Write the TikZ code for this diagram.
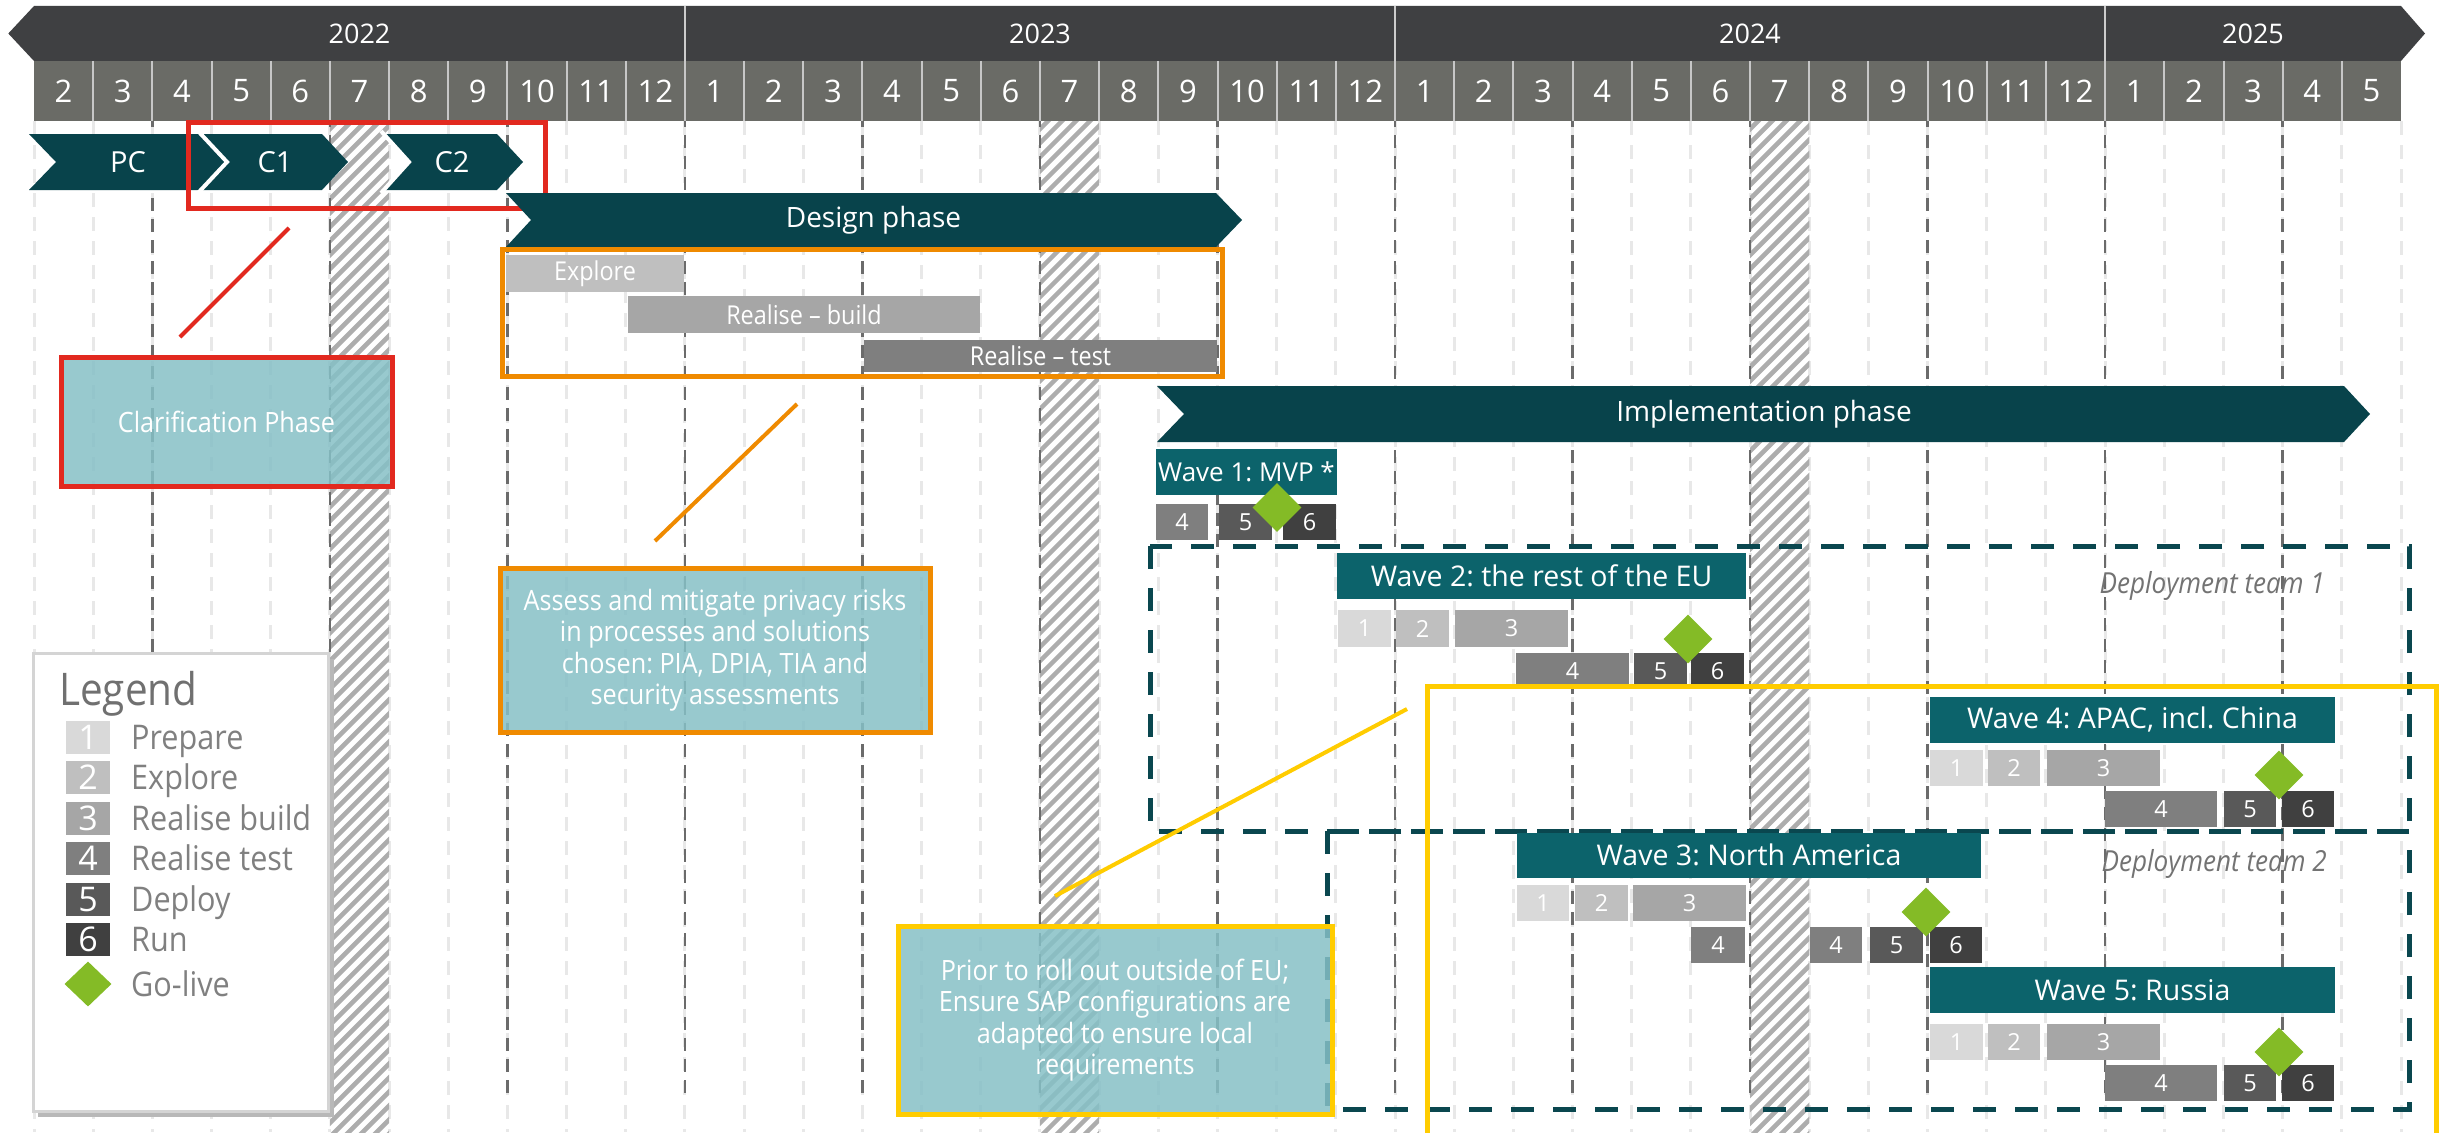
\documentclass[tikz,border=0pt]{standalone}
\usepackage{fontspec}
\setmainfont{Open Sans}
\newfontfamily\narrow[FakeStretch=0.9]{Open Sans}
\usetikzlibrary{shapes.geometric}
\frenchspacing

\definecolor{yearbar}{HTML}{3F4042}
\definecolor{monthcell}{HTML}{6A6B66}
\definecolor{phase}{HTML}{08434B}
\definecolor{wavefill}{HTML}{0C636B}
\definecolor{callout}{HTML}{86C0C6}
\definecolor{redline}{HTML}{E2291F}
\definecolor{orangeline}{HTML}{EF8A00}
\definecolor{yellowline}{HTML}{FFCC00}
\definecolor{livegreen}{HTML}{84BB26}
\definecolor{teamline}{HTML}{0A474F}
\definecolor{sA}{HTML}{D9D9D9}
\definecolor{sB}{HTML}{BFBFBF}
\definecolor{sC}{HTML}{A6A6A6}
\definecolor{sD}{HTML}{7F7F7F}
\definecolor{sE}{HTML}{595959}
\definecolor{sF}{HTML}{404040}

\newcommand\fs[2]{\fontsize{#1}{#2}\selectfont}
% box node from x1,x2,y1,y2 (pixel grid, y downwards)
\newcommand\stepbx[7]{\node[stepbox, fill=#6, minimum width={#3-#2}, minimum height={#5-#4}] (#1) at ({(#2+#3)/2},{(#4+#5)/2}) {#7};}
\newcommand\barbx[7]{\node[barbox, fill=#6, minimum width={#3-#2}, minimum height={#5-#4}] (#1) at ({(#2+#3)/2},{(#4+#5)/2}) {#7};}
\newcommand\mx[1]{(34+59.175*(#1))}

\begin{document}
\begin{tikzpicture}[x=1pt,y=-1pt,
  gridlight/.style={draw=black!9, line width=3pt, dash pattern=on 14pt off 10pt},
  gridquarter/.style={draw=black!58, line width=2.5pt, dash pattern=on 13pt off 8pt},
  hatchline/.style={draw=black!32, line width=4.5pt},
  monsep/.style={draw=black!22, line width=2pt},
  yearlbl/.style={text=white, font=\fs{27}{27}, inner sep=0},
  monlbl/.style={text=white, font=\fs{31}{31}, inner sep=0},
  chevlbl/.style={text=white, font=\fs{29}{29}, inner sep=0},
  phaselbl/.style={text=white, font=\fs{28}{28}, inner sep=0},
  barbox/.style={text=white, font=\narrow\fs{26}{26}, inner sep=0},
  waveheader/.style={fill=wavefill, text=white, font=\fs{28.5}{28.5}, inner sep=0},
  stepbox/.style={text=white, font=\fs{23.5}{23.5}, inner sep=0},
  calltext/.style={text=white, font=\narrow\fs{28}{31.5}, align=center, inner sep=0},
  callbox/.style={fill=callout, fill opacity=0.85, line width=5pt},
  connector/.style={line width=4pt},
  golive/.style={diamond, fill=livegreen, inner sep=0, minimum width=49pt, minimum height=49pt},
  teambox/.style={draw=teamline, line width=5pt, dash pattern=on 23pt off 19pt},
  teamlbl/.style={text=black!55, font=\narrow\itshape\fs{29}{29}, inner sep=0},
  legtitle/.style={text=black!56, font=\narrow\fs{45}{45}, inner sep=0},
  leglbl/.style={text=black!50, font=\narrow\fs{34}{34}, inner sep=0},
]
\clip (0,0) rectangle (2440,1132);
\fill[white] (0,0) rectangle (2440,1132);

% ---------- month grid ----------
\foreach \m in {0,...,40}
  \draw[gridlight] ({\mx{\m}},121) -- ({\mx{\m}},1132);
% hatched July columns
\foreach \m in {5,17,29} {
  \begin{scope}
    \clip ({\mx{\m}},121) rectangle ({\mx{\m+1}},1132);
    \foreach \k in {0,...,78}
      \draw[hatchline] ({\mx{\m}-1025+14*\k},1140) -- ++(1100,-1100);
  \end{scope}
}
% quarter lines
\foreach \m in {2,5,...,38}
  \draw[gridquarter] ({\mx{\m}},114) -- ({\mx{\m}},1100);

% ---------- time axis ----------
\fill[yearbar] (8.3,33.5) -- (34,6) -- (2401,6) -- (2425,33.5) -- (2401,61) -- (34,61) -- cycle;
\fill[monthcell] (34,61) rectangle (2401,120.5);
\foreach \m in {1,...,39}
  \draw[monsep] ({\mx{\m}},61) -- ({\mx{\m}},120.5);
\foreach \m in {11,23,35}
  \draw[draw=black!20, line width=2pt] ({\mx{\m}},6) -- ({\mx{\m}},61);
\node[yearlbl] (y2022) at (359.5,33.5) {2022};
\node[yearlbl] (y2023) at (1040,33.5) {2023};
\node[yearlbl] (y2024) at (1750,33.5) {2024};
\node[yearlbl] (y2025) at (2253,33.5) {2025};
\foreach \lab [count=\i from 0] in {2,3,4,5,6,7,8,9,10,11,12,1,2,3,4,5,6,7,8,9,10,11,12,1,2,3,4,5,6,7,8,9,10,11,12,1,2,3,4,5}
  \node[monlbl] (mon\i) at ({\mx{\i+0.5}},91) {\lab};

% ---------- clarification chevrons ----------
\fill[phase] (29,134) -- (201,134) -- (229,162) -- (201,190) -- (29,190) -- (56,162) -- cycle;
\fill[phase] (201,134) -- (322,134) -- (348,162) -- (322,190) -- (201,190) -- (229,162) -- cycle;
\draw[white, line width=4pt] (198,131) -- (227,162) -- (198,193);
\fill[phase] (384,134) -- (497,134) -- (523,162) -- (497,190) -- (384,190) -- (411,162) -- cycle;
\draw[white, line width=4pt] (381,131) -- (409,162) -- (381,193);
\node[chevlbl] (pc) at (128,162) {PC};
\node[chevlbl] (c1) at (275,162) {C1};
\node[chevlbl] (c2) at (452,162) {C2};
\draw[redline, line width=5pt] (188,122) rectangle (545,208);

% ---------- design phase ----------
\fill[phase] (506,193) -- (1216,193) -- (1242,220) -- (1216,247) -- (506,247) -- (531,220) -- cycle;
\node[phaselbl] (design) at (873.5,220) {Design phase};
\barbx{explore}{506}{684}{255}{292}{sB}{Explore}
\barbx{build}{628}{980}{296}{333}{sC}{Realise – build}
\barbx{test}{864}{1217}{340}{372}{sD}{Realise – test}
\draw[orangeline, line width=5pt] (502,249) rectangle (1222,376);

% ---------- implementation phase ----------
\fill[phase] (1157,386) -- (2344,386) -- (2370,414) -- (2344,442) -- (1157,442) -- (1184,414) -- cycle;
\node[phaselbl] (impl) at (1764,414) {Implementation phase};

% deployment teams
\draw[teambox] (1150,546) rectangle (2409,831);
\draw[teambox] (1327,831) rectangle (2409,1109);
\node[teamlbl, anchor=base east] (team1) at (2325,593) {Deployment team 1};
\node[teamlbl, anchor=base east] (team2) at (2327,871) {Deployment team 2};

% wave 1
\node[waveheader, font=\fs{26}{26}, minimum width=181pt, minimum height=46pt] (w1) at (1246.5,472) {Wave 1: MVP *};
\stepbx{w1d}{1156}{1208}{504}{540}{sD}{4}
\stepbx{w1e}{1219}{1272}{504}{540}{sE}{5}
\stepbx{w1f}{1283}{1336}{504}{540}{sF}{6}
\node[golive] (w1live) at (1277,507.5) {};

% wave 2
\node[waveheader, minimum width=409pt, minimum height=46pt] (w2) at (1541.5,576) {Wave 2: the rest of the EU};
\stepbx{w2a}{1338}{1391}{610}{647}{sA}{1}
\stepbx{w2b}{1396}{1449}{610}{647}{sB}{2}
\stepbx{w2c}{1455}{1568}{610}{647}{sC}{3}
\stepbx{w2d}{1516}{1629}{653}{689}{sD}{4}
\stepbx{w2e}{1634}{1687}{653}{689}{sE}{5}
\stepbx{w2f}{1691}{1744}{653}{689}{sF}{6}
\node[golive] (w2live) at (1688,639) {};

% wave 4
\node[waveheader, minimum width=405pt, minimum height=46pt] (w4) at (2132.5,719.5) {Wave 4: APAC, incl. China};
\stepbx{w4a}{1930}{1983}{750}{786}{sA}{1}
\stepbx{w4b}{1988}{2040}{750}{786}{sB}{2}
\stepbx{w4c}{2047}{2160}{750}{786}{sC}{3}
\stepbx{w4d}{2105}{2217}{791}{827}{sD}{4}
\stepbx{w4e}{2224}{2276}{791}{827}{sE}{5}
\stepbx{w4f}{2282}{2334}{791}{827}{sF}{6}
\node[golive] (w4live) at (2279,775) {};

% wave 3
\node[waveheader, minimum width=464pt, minimum height=45pt] (w3) at (1749,855) {Wave 3: North America};
\stepbx{w3a}{1517}{1569}{885}{921}{sA}{1}
\stepbx{w3b}{1575}{1628}{885}{921}{sB}{2}
\stepbx{w3c}{1633}{1746}{885}{921}{sC}{3}
\stepbx{w3d}{1691}{1745}{927}{963}{sD}{4}
\stepbx{w3e}{1810}{1862}{927}{963}{sD}{4}
\stepbx{w3f}{1870}{1923}{927}{963}{sE}{5}
\stepbx{w3g}{1930}{1982}{927}{963}{sF}{6}
\node[golive] (w3live) at (1926,912) {};

% wave 5
\node[waveheader, minimum width=405pt, minimum height=46pt] (w5) at (2132.5,990) {Wave 5: Russia};
\stepbx{w5a}{1930}{1983}{1024}{1060}{sA}{1}
\stepbx{w5b}{1988}{2040}{1024}{1060}{sB}{2}
\stepbx{w5c}{2047}{2160}{1024}{1060}{sC}{3}
\stepbx{w5d}{2105}{2217}{1065}{1101}{sD}{4}
\stepbx{w5e}{2224}{2276}{1065}{1101}{sE}{5}
\stepbx{w5f}{2282}{2334}{1065}{1101}{sF}{6}
\node[golive] (w5live) at (2279,1052) {};

% ---------- callouts ----------
\path[callbox, draw=redline] (61,357) rectangle (392,486);
\node[calltext] (clarif) at (226.5,422) {Clarification Phase};
\coordinate (redA) at (289,228);
\coordinate (redB) at (180,337);
\draw[connector, redline] (redA) -- (redB);

\path[callbox, draw=orangeline] (500,568) rectangle (930,732);
\node[calltext] (privacy) at (715,650) {Assess and mitigate privacy risks\\in processes and solutions\\chosen: PIA, DPIA, TIA and\\security assessments};
\coordinate (orA) at (797,404);
\coordinate (orB) at (655,541);
\draw[connector, orangeline] (orA) -- (orB);

\path[callbox, draw=yellowline] (898,926) rectangle (1332,1114);
\node[calltext] (rollout) at (1115,1020) {Prior to roll out outside of EU;\\Ensure SAP configurations are\\adapted to ensure local\\requirements};
\coordinate (yeA) at (1407,709);
\coordinate (yeB) at (1055,896);
\draw[connector, yellowline] (yeA) -- (yeB);
\draw[yellowline, line width=5pt] (1427,1140) -- (1427,686) -- (2436.5,686) -- (2436.5,1140);

% ---------- legend ----------
\fill[black!28] (38,659) rectangle (334,1117);
\draw[draw=black!17, line width=3pt, fill=white] (33,653) rectangle (328,1111);
\node[legtitle, anchor=base west] (legend) at (59,705) {Legend};
\stepbx{lg1}{66}{110}{721}{754}{sA}{\fs{34}{34}1}
\stepbx{lg2}{66}{110}{761}{794}{sB}{\fs{34}{34}2}
\stepbx{lg3}{66}{110}{802}{835}{sC}{\fs{34}{34}3}
\stepbx{lg4}{66}{110}{842}{875}{sD}{\fs{34}{34}4}
\stepbx{lg5}{66}{110}{883}{916}{sE}{\fs{34}{34}5}
\stepbx{lg6}{66}{110}{923}{956}{sF}{\fs{34}{34}6}
\node[golive, minimum width=47pt, minimum height=45pt] (lg7) at (88,984) {};
\node[leglbl, anchor=base west] (lt1) at (131,749.5) {Prepare};
\node[leglbl, anchor=base west] (lt2) at (131,789.5) {Explore};
\node[leglbl, anchor=base west] (lt3) at (131,830.5) {Realise build};
\node[leglbl, anchor=base west] (lt4) at (131,870.5) {Realise test};
\node[leglbl, anchor=base west] (lt5) at (131,911.5) {Deploy};
\node[leglbl, anchor=base west] (lt6) at (131,951.5) {Run};
\node[leglbl, anchor=base west] (lt7) at (131,996) {Go-live};
\end{tikzpicture}
\end{document}
